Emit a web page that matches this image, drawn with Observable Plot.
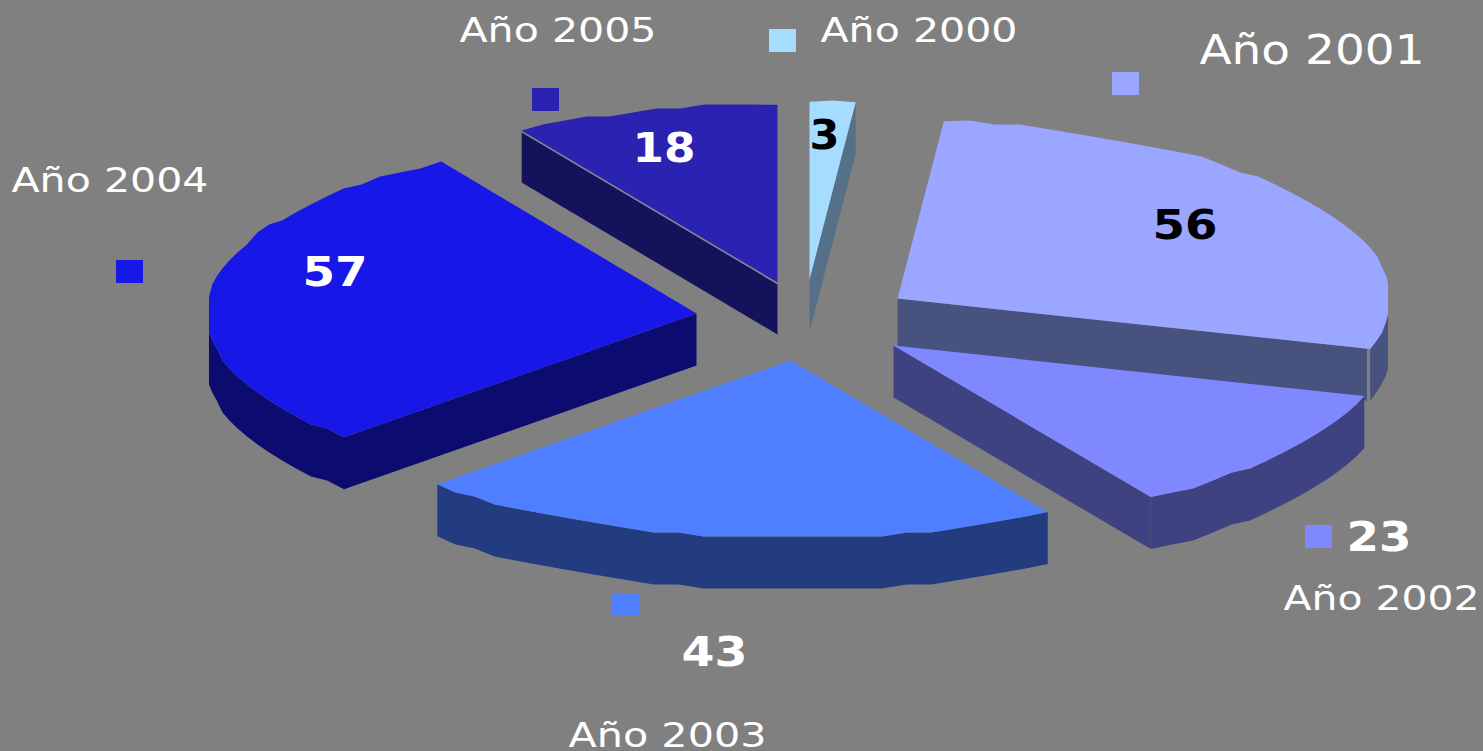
<!DOCTYPE html>
<html><head><meta charset="utf-8">
<script src="https://cdn.jsdelivr.net/npm/d3@7"></script>
<script src="https://cdn.jsdelivr.net/npm/@observablehq/plot@0.6"></script>
<style>html,body{margin:0;padding:0;background:#808080;overflow:hidden}svg{display:block}</style>
</head><body><div id="chart"></div>
<script>
// data
const years = ["Año 2000","Año 2001","Año 2002","Año 2003","Año 2004","Año 2005"];
const values = [3,56,23,43,57,18];
const topColors = ["#a6dcff","#9aa6ff","#8088ff","#4f7fff","#1717e8","#2a22b0"];
const sideColors = ["#557088","#47527f","#3f4280","#233c80","#0b0b70","#14125a"];
const valueColors = ["#000","#000","#fff","#fff","#fff","#fff"];

// layout of the exploded pie
const W = 1483, H = 751, RY = 178, DEPTH = 52, SNAP = 4, STEP = 3, CLAMP_X = 0.995, CLAMP_Y = 0.998;
const radiusX = [491,493,491,491,490,491];
const apexX = [809,897,893,790,696,777];
const apexY = [279,298,345,360,313,282];
// perspective shift of each slice's end angle, in degrees
const angleShift = [0,0.3,0.8,1,1,0];
const radial = ["end","end","end",null,"start","start"];
const squareX = [769,1112,1305,612,116,532];
const squareY = [29,72,525,593,260,88];
const labelX = [820,1199,1283,568,11,459];
const labelY = [41,63,609,746,191,41];
const labelLen = [197,225,196,198,197,197];
const labelSize = [34,40,34,33,34,34];
const valueX = [809,1152,1346,681,302,632];
const valueY = [148,238,550,665,285,161];
const valueLen = [30,65,65,66,65,63];

const total = d3.sum(values);
const rad = d => d * Math.PI / 180;
const clamp = (v,c) => Math.max(-c, Math.min(c, v));
let acc = 0;
const slices = years.map((year,i) => {
  const a0 = acc / total * 360 + (i ? angleShift[i-1] : 0); acc += values[i];
  return {year, i, a0, a1: acc / total * 360 + angleShift[i]};
});
const snap = v => Math.round(v / SNAP) * SNAP;
const px = (s,a,f=1) => apexX[s.i] + f * radiusX[s.i] * clamp(Math.sin(rad(a)),CLAMP_X);
const py = (s,a,f=1) => apexY[s.i] - f * RY * clamp(Math.cos(rad(a)),CLAMP_Y);
const arc = (s,a0,a1,dy=0) => {
  const n = Math.max(1, Math.ceil((a1-a0)/STEP)), out = [];
  for (let k = 0; k <= n; k++) {
    const a = a0 + (a1-a0)*k/n;
    out.push([px(s,a), (k===0||k===n ? py(s,a) : snap(py(s,a))) + dy]);
  }
  return out;
};
const polys = [];
const add = (id, fill, pts) => pts.forEach(([x,y]) => polys.push({id, fill, x, y}));
// back to front
[0,5,4,1,2,3].forEach(i => {
  const s = slices[i];
  const rim = radial[i] === "start" ? s.a0 : s.a1;
  if (radial[i]) {
    const f = i === 1 ? 0.993 : 1;
    add(`r${i}`, sideColors[i], [
      [apexX[i],apexY[i]],[px(s,rim,f),py(s,rim,f)],
      [px(s,rim,f),py(s,rim,f)+DEPTH],[apexX[i],apexY[i]+DEPTH]]);
  }
  const lo = Math.max(s.a0,90), hi = Math.min(s.a1,270);
  if (lo < hi) {
    const up = arc(s,lo,hi), down = arc(s,lo,hi,DEPTH).reverse();
    add(`o${i}`, sideColors[i], [...up,...down]);
  }
  add(`t${i}`, topColors[i], [[apexX[i],apexY[i]], ...arc(s,s.a0,s.a1)]);
});
// thin light seam between top and radial wall of Año 2005
const s5 = slices[5];
const seam = [{x:apexX[5],y:apexY[5]+1},{x:px(s5,s5.a0),y:py(s5,s5.a0)+1}];

const rows = years.map((year,i) => ({
  year, value:String(values[i]), top:topColors[i], vc:valueColors[i],
  sx:squareX[i], sy:squareY[i], lx:labelX[i], ly:labelY[i], ls:labelSize[i],
  vx:valueX[i], vy:valueY[i]
}));

const chart = Plot.plot({
  width:W, height:H, margin:0,
  style:{background:"#808080", fontFamily:"'DejaVu Sans'"},
  x:{domain:[0,W], range:[0,W], axis:null},
  y:{domain:[0,H], range:[0,H], axis:null},
  color:{type:"identity"},
  marks:[
    Plot.line(polys,{x:"x",y:"y",z:"id",fill:"fill",stroke:"none",curve:"linear-closed"}),
    Plot.line(seam,{x:"x",y:"y",stroke:"#8a8a9a",strokeWidth:1.5}),
    Plot.rect(rows,{x1:"sx",x2:d=>d.sx+27,y1:"sy",y2:d=>d.sy+23,fill:"top"}),
    Plot.text(rows,{x:"lx",y:"ly",text:"year",fill:"#fff",textAnchor:"start",lineAnchor:"bottom",fontSize:"ls",className:"lab"}),
    Plot.text(rows,{x:"vx",y:"vy",text:"value",fill:"vc",textAnchor:"start",lineAnchor:"bottom",fontSize:40,fontWeight:"bold",className:"val"})
  ]
});
// horizontally stretched type, as in the reference
d3.select(chart).selectAll(".lab text").attr("textLength",(_,i)=>labelLen[i]).attr("lengthAdjust","spacingAndGlyphs");
d3.select(chart).selectAll(".val text").attr("textLength",(_,i)=>valueLen[i]).attr("lengthAdjust","spacingAndGlyphs");
document.getElementById("chart").append(chart);
</script></body></html>
